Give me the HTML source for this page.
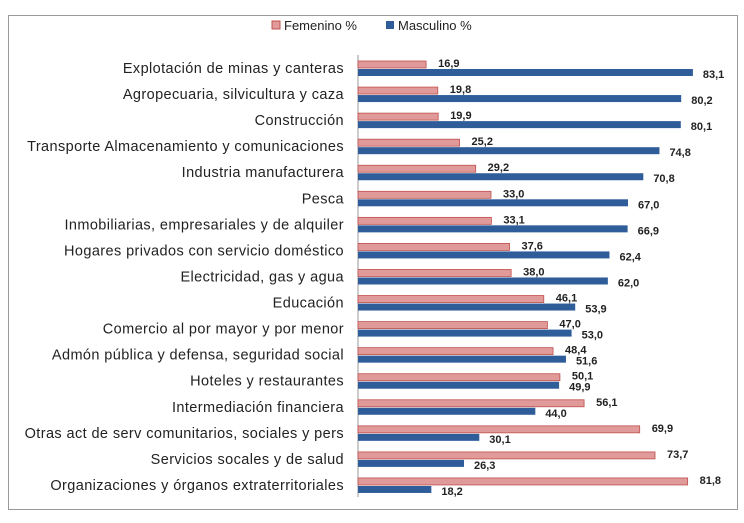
<!DOCTYPE html>
<html><head><meta charset="utf-8"><style>
body{margin:0;background:#fff;width:744px;height:518px;overflow:hidden;font-family:"Liberation Sans",sans-serif}
</style></head><body>
<svg id="c" width="744" height="518" xmlns="http://www.w3.org/2000/svg">
<rect x="8.5" y="15.5" width="729" height="494" fill="#fff" stroke="#999" stroke-width="1"/>
<g>
<rect x="272" y="21" width="8" height="8" fill="#e09a9a" stroke="#c0504d"/>
<text x="284" y="30" font-size="13" fill="#222">Femenino %</text>
<rect x="386" y="21" width="8" height="8" fill="#2e5d9a"/>
<text x="398" y="30" font-size="13" fill="#222">Masculino %</text>
</g>
<line x1="358" y1="55" x2="358" y2="497" stroke="#999"/>
<g id="bars"></g>
</svg>
<script>
const categories=["Explotación de minas y canteras","Agropecuaria, silvicultura y caza","Construcción","Transporte Almacenamiento y comunicaciones","Industria manufacturera","Pesca","Inmobiliarias, empresariales y de alquiler","Hogares privados con servicio doméstico","Electricidad, gas y agua","Educación","Comercio al por mayor y por menor","Admón pública y defensa, seguridad social","Hoteles y restaurantes","Intermediación financiera","Otras act de serv comunitarios, sociales y pers","Servicios socales y de salud","Organizaciones y órganos extraterritoriales"];
const femenino=[16.9,19.8,19.9,25.2,29.2,33.0,33.1,37.6,38.0,46.1,47.0,48.4,50.1,56.1,69.9,73.7,81.8];
const masculino=[83.1,80.2,80.1,74.8,70.8,67.0,66.9,62.4,62.0,53.9,53.0,51.6,49.9,44.0,30.1,26.3,18.2];
const NS="http://www.w3.org/2000/svg";
const x=v=>358+v*4.03;
const y=i=>68+i*26.06;
const g=document.getElementById('bars');
function mk(t,a){const e=document.createElementNS(NS,t);for(const k in a)e.setAttribute(k,a[k]);g.appendChild(e);return e;}
const fmt=v=>v.toFixed(1).replace('.',',');
categories.forEach((c,i)=>{
 const cy=y(i);
 let t=mk('text',{x:344,y:cy+5,'font-size':14.5,'letter-spacing':0.4,fill:'#222','text-anchor':'end'});t.textContent=c;
 
 
 let b=mk('rect',{x:358,y:cy-7,width:x(femenino[i])-358,height:7,fill:'#e09a9a',stroke:'#c0504d','stroke-width':0.8});
 
 
 let m=mk('rect',{x:358,y:cy+1,width:x(masculino[i])-358,height:7,fill:'#2e5d9a'});
 
 
 let l1=mk('text',{x:x(femenino[i])+12,y:cy-1,'font-size':11,'font-weight':'bold',fill:'#222'});l1.textContent=fmt(femenino[i]);
 
 
 let l2=mk('text',{x:x(masculino[i])+10,y:cy+10,'font-size':11,'font-weight':'bold',fill:'#222'});l2.textContent=fmt(masculino[i]);
 
 
});
</script>
</body></html>
